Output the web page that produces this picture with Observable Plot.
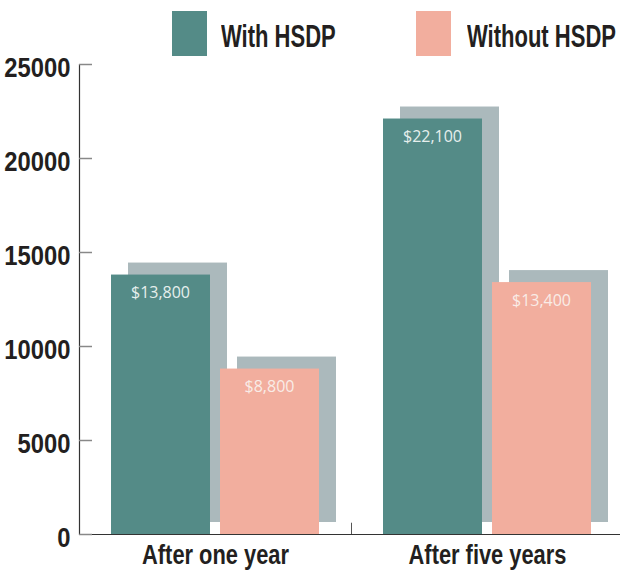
<!DOCTYPE html>
<html><head><meta charset="utf-8">
<script src="https://cdn.jsdelivr.net/npm/d3@7"></script>
<script src="https://cdn.jsdelivr.net/npm/@observablehq/plot@0.6"></script>
<style>
body{margin:0;background:#fff;}
#wrap{position:relative;width:620px;height:573px;overflow:hidden;}
#legend{position:absolute;left:0;top:0;width:620px;height:60px;}
.sw{position:absolute;width:35px;height:45px;top:11px;}
.lt{position:absolute;top:21px;font-weight:bold;font-size:31px;line-height:31px;font-family:"Liberation Sans",Arial,sans-serif;color:#231f20;white-space:nowrap;transform:scaleX(0.71);transform-origin:0 0;}
g[aria-label="x-axis tick label"] text, g[aria-label="y-axis tick label"] text {font-family:"Liberation Sans",Arial,sans-serif;font-weight:bold;fill:#231f20;}
</style></head>
<body><div id="wrap"><div id="chart"></div><div id="legend"></div></div>
<script>
const categories = ["After one year", "After five years"];
const series = ["With HSDP", "Without HSDP"];
const withValues = [13800, 22100];
const withoutValues = [8800, 13400];
const yTicks = [0, 5000, 10000, 15000, 20000, 25000];
const seriesColors = ["#548b87", "#f2ae9e"];
const shadowColor = "#abb9bc";

const rows = categories.flatMap((c, i) => [
  {category: c, series: series[0], value: withValues[i]},
  {category: c, series: series[1], value: withoutValues[i]}
]);
const rowsWith = rows.filter(d => d.series === series[0]);
const rowsWithout = rows.filter(d => d.series === series[1]);
const fmt = d => "$" + d3.format(",")(d.value);

const chart = Plot.plot({
  width: 620,
  height: 573,
  marginTop: 64,
  marginBottom: 39,
  marginLeft: 79,
  marginRight: 0,
  style: {fontFamily: "'Open Sans', sans-serif", background: "white"},
  x: {type: "band", domain: categories, range: [79, 623], padding: 0},
  y: {domain: [0, 25000]},
  color: {domain: series, range: seriesColors},
  marks: [
    Plot.barY(rowsWith, {x: "category", y: "value", fill: shadowColor, insetLeft: 49, insetRight: 124, dy: -12}),
    Plot.barY(rowsWithout, {x: "category", y: "value", fill: shadowColor, insetLeft: 158, insetRight: 15, dy: -12}),
    Plot.barY(rowsWith, {x: "category", y: "value", fill: "series", insetLeft: 32, insetRight: 141}),
    Plot.barY(rowsWithout, {x: "category", y: "value", fill: "series", insetLeft: 141, insetRight: 32}),
    Plot.text(rowsWith, {x: "category", y: "value", text: fmt, dx: -55, dy: 18, fontSize: 16, fill: "#e6efed"}),
    Plot.text(rowsWithout, {x: "category", y: "value", text: fmt, dx: 54, dy: 18, fontSize: 16, fill: "#f9ece7"}),
    Plot.ruleY([0], {stroke: "#333", strokeWidth: 1.2}),
    Plot.frame({anchor: "left", stroke: "#333", strokeWidth: 1.2}),
    Plot.tickY(yTicks, {y: d => d, stroke: "#888", strokeWidth: 1.5, insetRight: 528}),
    Plot.ruleX([categories[1]], {x: d => d, dx: -136, y1: 0, y2: 600, stroke: "#555"}),
    Plot.axisY({ticks: yTicks, tickFormat: d => String(d), tickSize: 0, tickPadding: 9, fontSize: 28, dy: 4, label: null}),
    Plot.axisX({tickSize: 0, tickPadding: 10, fontSize: 28, label: null})
  ]
});
document.getElementById("chart").appendChild(chart);

function condense(selector, factor) {
  chart.querySelectorAll(selector).forEach(t => {
    const w = t.getComputedTextLength();
    t.setAttribute("textLength", w * factor);
    t.setAttribute("lengthAdjust", "spacingAndGlyphs");
  });
}
condense('g[aria-label="y-axis tick label"] text', 0.85);
condense('g[aria-label="x-axis tick label"] text', 0.78);

const legend = document.getElementById("legend");
const legendPos = [{sw: 172, tx: 221}, {sw: 416, tx: 467}];
series.forEach((s, i) => {
  const sw = document.createElement("div");
  sw.className = "sw";
  sw.style.left = legendPos[i].sw + "px";
  sw.style.background = seriesColors[i];
  legend.appendChild(sw);
  const t = document.createElement("div");
  t.className = "lt";
  t.style.left = legendPos[i].tx + "px";
  t.textContent = s;
  legend.appendChild(t);
});
</script>
</body></html>
